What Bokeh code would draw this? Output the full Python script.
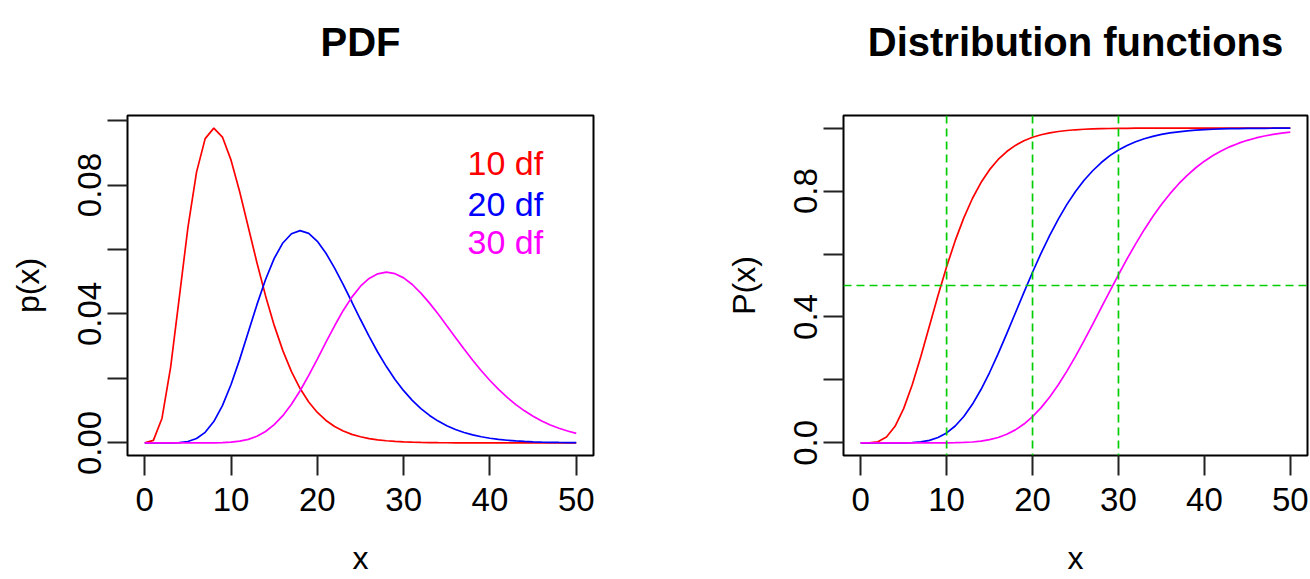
import math
from bokeh.plotting import figure
from bokeh.layouts import row
from bokeh.models import FixedTicker, Span, Label
from bokeh.embed import file_html
from bokeh.resources import INLINE

# ---------------- data ----------------
x_vals = list(range(0, 51))

pdf_10 = [0, 0.00079, 0.00766, 0.02353, 0.04511, 0.06680, 0.08402, 0.09441, 0.09768, 0.09490,
          0.08773, 0.07791, 0.06693, 0.05591, 0.04561, 0.03646, 0.02863, 0.02213, 0.01687, 0.01270,
          0.00946, 0.00697, 0.00509, 0.00369, 0.00265, 0.00190, 0.00134, 0.00095, 0.00067, 0.00046,
          0.00032, 0.00022, 0.00015, 0.00011, 0.00007, 0.00005, 0.00003, 0.00002, 0.00002, 0.00001,
          0.00001, 0, 0, 0, 0, 0, 0, 0, 0, 0,
          0]
pdf_20 = [0, 0, 0.0000005, 0.000012, 0.000095, 0.00043, 0.00135, 0.00328, 0.00662, 0.01158,
          0.01813, 0.02592, 0.03440, 0.04290, 0.05070, 0.05724, 0.06204, 0.06491, 0.06588, 0.06503,
          0.06256, 0.05884, 0.05425, 0.04910, 0.04372, 0.03829, 0.03305, 0.02813, 0.02368, 0.01970,
          0.01621, 0.01321, 0.01065, 0.00853, 0.00677, 0.00533, 0.00417, 0.00323, 0.00249, 0.00191,
          0.00145, 0.00110, 0.00083, 0.00062, 0.00046, 0.00034, 0.00025, 0.00019, 0.00014, 0.00010,
          0.00007]
pdf_30 = [0, 0, 0, 0, 0, 0, 0, 0.000007, 0.00003, 0.00009,
          0.00024, 0.00054, 0.00111, 0.00207, 0.00355, 0.00566, 0.00846, 0.01199, 0.01619, 0.02093,
          0.02602, 0.03125, 0.03634, 0.04110, 0.04524, 0.04863, 0.05102, 0.05247, 0.05300, 0.05250,
          0.05121, 0.04915, 0.04648, 0.04337, 0.04000, 0.03634, 0.03272, 0.02914, 0.02566, 0.02240,
          0.01937, 0.01659, 0.01411, 0.01189, 0.00995, 0.00827, 0.00681, 0.00558, 0.00455, 0.00368,
          0.00297]

cdf_10 = [0, 0.00017, 0.00366, 0.01858, 0.05265, 0.10882, 0.18474, 0.27456, 0.37116, 0.46790,
          0.55951, 0.64248, 0.71494, 0.77633, 0.82701, 0.86794, 0.90037, 0.92564, 0.94504, 0.95974,
          0.97075, 0.97891, 0.98490, 0.98925, 0.99240, 0.99465, 0.99626, 0.99739, 0.99819, 0.99875,
          0.99914, 0.99941, 0.99960, 0.99973, 0.99981, 0.99987, 0.99991, 0.99994, 0.99996, 0.99997,
          0.99998, 0.99999, 0.99999, 1, 1, 1, 1, 1, 1, 1,
          1]
cdf_20 = [0, 0, 0, 0.00001, 0.00005, 0.00036, 0.00110, 0.0034, 0.00813, 0.0170,
          0.03183, 0.0537, 0.08392, 0.1226, 0.16950, 0.2236, 0.28338, 0.3470, 0.41259, 0.4781,
          0.54207, 0.6030, 0.65939, 0.7108, 0.75761, 0.7986, 0.83431, 0.8645, 0.89060, 0.9125,
          0.93014, 0.9448, 0.9567, 0.9662, 0.9739, 0.9800, 0.9846, 0.9882, 0.9911, 0.9933,
          0.9950, 0.9963, 0.9973, 0.9980, 0.9985, 0.9989, 0.9992, 0.9994, 0.9996, 0.9997,
          0.9998]
cdf_30 = [0, 0, 0, 0, 0, 0, 0, 0, 0.00002, 0.00008,
          0.00022, 0.00059, 0.00138, 0.00292, 0.00567, 0.0102, 0.0172, 0.0274, 0.0414, 0.0599,
          0.0834, 0.1120, 0.1458, 0.1846, 0.2279, 0.2749, 0.3248, 0.3766, 0.4294, 0.4822,
          0.5341, 0.5844, 0.6323, 0.6773, 0.7190, 0.7572, 0.7917, 0.8226, 0.8500, 0.8740,
          0.8949, 0.9129, 0.9282, 0.9412, 0.9521, 0.9612, 0.9687, 0.9749, 0.9800, 0.9841,
          0.9874]

series_names = ["10 df", "20 df", "30 df"]
series_colors = ["red", "blue", "magenta"]

x_ticks = [0, 10, 20, 30, 40, 50]
pdf_ticks = [0.0, 0.02, 0.04, 0.06, 0.08, 0.10]
pdf_tick_labels = ["0.00", "", "0.04", "", "0.08", ""]
cdf_ticks = [0.0, 0.2, 0.4, 0.6, 0.8, 1.0]
cdf_tick_labels = ["0.0", "", "0.4", "", "0.8", ""]

guide_x = [10, 20, 30]
guide_y = [0.5]

titles = ["PDF", "Distribution functions"]

# ---------------- styling ----------------
FONT = "Liberation Sans"
GREEN = "#00CD00"
FRAME_W = [466, 464]
FRAME_H = 340


def r_range(lo, hi):
    pad = 0.04 * (hi - lo)
    return (lo - pad, hi + pad)


def style(p, yticks, ylabels, ylab):
    p.xgrid.visible = False
    p.ygrid.visible = False
    p.outline_line_color = "black"
    p.outline_line_width = 2
    p.background_fill_color = "white"
    p.border_fill_color = "white"
    p.min_border_top = 115
    p.min_border_bottom = 124

    p.title.text_font = FONT
    p.title.text_font_size = "40px"
    p.title.text_font_style = "bold"
    p.title.align = "center"
    p.title.vertical_align = "top"
    p.title.text_color = "black"
    p.title.standoff = 12

    for ax in (p.xaxis[0], p.yaxis[0]):
        ax.axis_line_color = None
        ax.major_tick_in = 0
        ax.major_tick_out = 20
        ax.major_tick_line_width = 2
        ax.major_tick_line_color = "#222222"
        ax.minor_tick_line_color = None
        ax.major_label_text_font = FONT
        ax.major_label_text_font_size = "33px"
        ax.major_label_text_color = "black"
        ax.axis_label_text_font = FONT
        ax.axis_label_text_font_size = "32px"
        ax.axis_label_text_font_style = "normal"
        ax.axis_label_text_color = "black"

    p.xaxis[0].ticker = FixedTicker(ticks=x_ticks)
    p.xaxis[0].major_label_standoff = 12
    p.xaxis[0].axis_label = "x"
    p.xaxis[0].axis_label_standoff = 26

    p.yaxis[0].ticker = FixedTicker(ticks=yticks)
    p.yaxis[0].major_label_overrides = {t: l for t, l in zip(yticks, ylabels)}
    p.yaxis[0].major_label_orientation = "parallel"
    p.yaxis[0].major_label_standoff = 6
    p.yaxis[0].axis_label = ylab
    p.yaxis[0].axis_label_standoff = 30


# ---------------- left: PDF ----------------
pdf_all = pdf_10 + pdf_20 + pdf_30
p1 = figure(frame_width=FRAME_W[0], frame_height=FRAME_H,
            x_range=r_range(min(x_vals), max(x_vals)),
            y_range=r_range(min(pdf_all), max(pdf_all)),
            title=titles[0] + "\n ", output_backend="svg", toolbar_location=None)
p1.min_border_left = 127
p1.min_border_right = 62
style(p1, pdf_ticks, pdf_tick_labels, "p(x)")

for ys, c in zip([pdf_10, pdf_20, pdf_30], series_colors):
    p1.line(x_vals, ys, line_color=c, line_width=1.7)

legend_x = 37.4
legend_y = [0.0870, 0.0741, 0.0623]
for name, c, ly in zip(series_names, series_colors, legend_y):
    p1.add_layout(Label(x=legend_x, y=ly, text=name, text_color=c,
                        text_font=FONT, text_font_size="34px",
                        text_baseline="alphabetic", text_align="left"))

# ---------------- right: distribution functions ----------------
cdf_all = cdf_10 + cdf_20 + cdf_30
p2 = figure(frame_width=FRAME_W[1], frame_height=FRAME_H,
            x_range=r_range(min(x_vals), max(x_vals)),
            y_range=r_range(min(cdf_all), 1.0),
            title=titles[1] + "\n ", output_backend="svg", toolbar_location=None)
p2.min_border_left = 188
p2.min_border_right = 3
style(p2, cdf_ticks, cdf_tick_labels, "P(x)")

for gx in guide_x:
    p2.add_layout(Span(location=gx, dimension="height", line_color=GREEN,
                       line_width=1.7, line_dash="8 5"))
for gy in guide_y:
    p2.add_layout(Span(location=gy, dimension="width", line_color=GREEN,
                       line_width=1.7, line_dash="8 5"))

for ys, c in zip([cdf_10, cdf_20, cdf_30], series_colors):
    p2.line(x_vals, ys, line_color=c, line_width=1.7)

layout = row(p1, p2)
open("out.html", "w").write(file_html(layout, INLINE))
